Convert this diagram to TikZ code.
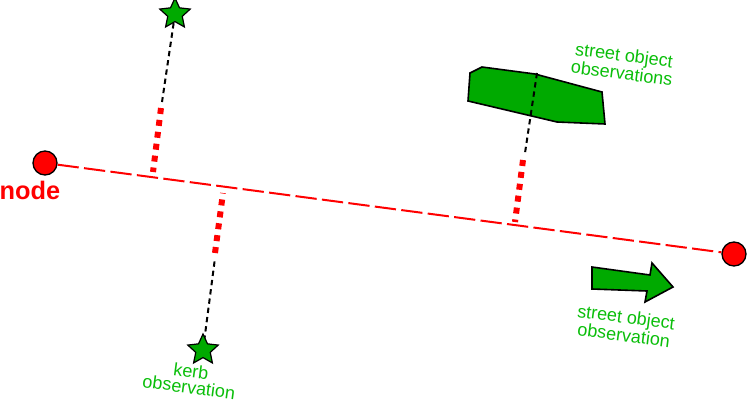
\documentclass[tikz,border=0pt]{standalone}
\usepackage{fontspec}
\setmainfont{Liberation Sans}
\usetikzlibrary{shapes.geometric}
\definecolor{objgreen}{RGB}{0,170,0}
\definecolor{txtgreen}{RGB}{10,190,10}
\pgfdeclarelayer{bg}
\pgfsetlayers{bg,main}
\tikzset{
  endnode/.style={circle,draw=black,line width=1pt,fill=red,minimum size=18pt,inner sep=0pt},
  obsstar/.style={star,star points=5,star point ratio=2.1,draw=black,line width=0.9pt,fill=objgreen,minimum size=24pt,inner sep=0pt},
  mainline/.style={red,line width=1.5pt,dash pattern=on 16pt off 4pt},
  perpred/.style={red,line width=4.5pt,dash pattern=on 4.5pt off 4.5pt},
  perpblack/.style={black,line width=1.5pt,dash pattern=on 4pt off 3pt},
  obslabel/.style={text=txtgreen,font=\fontsize{13.5}{12}\selectfont,align=center,rotate=-7.5,inner sep=0pt},
  objshape/.style={draw=black,line width=1.2pt,fill=objgreen,line join=miter}
}
\begin{document}
\begin{tikzpicture}[x=0.75pt,y=-0.75pt]
\useasboundingbox (0,0) rectangle (748,403);
% main line end nodes
\node[endnode] (nL) at (45,163) {};
\node[endnode] (nR) at (734,254) {};
\begin{pgfonlayer}{bg}
\draw[mainline] (nL) -- (nR);
\end{pgfonlayer}
\node[text=red,font=\bfseries\fontsize{19}{19}\selectfont,inner sep=0pt] (nodelbl) at (30,190) {node};

% street object polygon
\draw[objshape] (470,73) -- (482,67) -- (535,74) -- (602,92) -- (605,124) -- (557,122) -- (468,101) -- cycle;
\coordinate (p0) at (537,73);
\coordinate (p1) at (525,153);
\coordinate (p2) at (523,160);
\coordinate (p3) at (515,222);
\draw[perpblack] (p0) -- (p1);
\draw[perpred] (p2) -- (p3);
\node[obslabel] (lbl1) at (623,64) {street object\\observations};

% top star
\node[obsstar] (s1) at (175,14) {};
\coordinate (a1) at (162,102);
\coordinate (a2) at (161,108);
\coordinate (a3) at (153,172);
\begin{pgfonlayer}{bg}
\draw[perpblack] (s1.center) -- (a1);
\end{pgfonlayer}
\draw[perpred] (a2) -- (a3);

% kerb star
\node[obsstar] (s2) at (203,350) {};
\coordinate (b1) at (215,258);
\coordinate (b2) at (215,253);
\coordinate (b3) at (223,193);
\begin{pgfonlayer}{bg}
\draw[perpblack] (s2.center) -- (b1);
\end{pgfonlayer}
\draw[perpred] (b2) -- (b3);
\node[obslabel] (lbl2) at (190,379) {kerb\\observation};

% arrow
\draw[objshape] (592,267) -- (650,275) -- (652,263) -- (673,287) -- (645,302) -- (647,291) -- (592,289) -- cycle;
\node[obslabel] (lbl3) at (625,326) {street object\\observation};
\end{tikzpicture}
\end{document}
